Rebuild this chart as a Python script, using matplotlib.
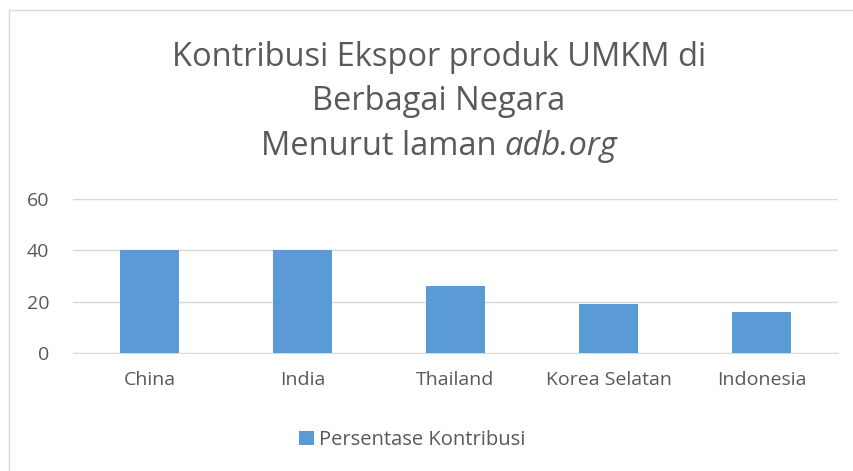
import matplotlib
matplotlib.use("Agg")
import matplotlib.pyplot as plt
from matplotlib.lines import Line2D

categories = ["China", "India", "Thailand", "Korea Selatan", "Indonesia"]
values = [40, 40, 26, 19, 16]
yticks = [0, 20, 40, 60]
series_name = "Persentase Kontribusi"

W, H = 854, 471
fig = plt.figure(figsize=(W / 100, H / 100), dpi=100)
fig.patch.set_facecolor("white")
font = "Open Sans"
gray = "#595959"
bar_color = "#5B9BD5"

# chart border (cut at right and bottom)
fig.add_artist(Line2D([9.5 / W, 1.0], [1 - 9.5 / H, 1 - 9.5 / H], color="#D9D9D9", lw=1.0))
fig.add_artist(Line2D([9.5 / W, 9.5 / W], [0, 1 - 9.5 / H], color="#D9D9D9", lw=1.0))

ax = fig.add_axes([73 / W, 1 - 353 / H, (838 - 73) / W, (353 - 199) / H])
x = list(range(len(categories)))
ax.bar(x, values, width=0.39, color=bar_color, label=series_name, zorder=3)
ax.set_xlim(-0.5, len(categories) - 0.5)
ax.set_ylim(0, 60)
ax.set_yticks(yticks)
ax.set_xticks(x)
ax.set_xticklabels(categories)
ax.grid(axis="y", color="#D9D9D9", lw=1.0, zorder=0)
for s in ax.spines.values():
    s.set_visible(False)
ax.spines["bottom"].set_visible(True)
ax.spines["bottom"].set_color("#D9D9D9")
ax.tick_params(axis="both", length=0, labelsize=14, labelcolor=gray)
ax.tick_params(axis="x", pad=13)
ax.tick_params(axis="y", pad=17)
for lab in ax.get_xticklabels() + ax.get_yticklabels():
    lab.set_fontfamily(font)

cx = 439 / W
fs = 23.5
fig.text(cx, 1 - 57 / H, "Kontribusi Ekspor produk UMKM di", ha="center", va="center",
         fontsize=fs, color=gray, family=font)
fig.text(cx, 1 - 102 / H, "Berbagai Negara", ha="center", va="center",
         fontsize=fs, color=gray, family=font)

# third line: regular + italic part, centred together
renderer = fig.canvas.get_renderer()
t1 = fig.text(0, 1 - 147 / H, "Menurut laman ", ha="left", va="center",
              fontsize=fs, color=gray, family=font)
t2 = fig.text(0, 1 - 147 / H, "adb.org", ha="left", va="center",
              fontsize=fs, color=gray, family=font, style="italic")
w1 = t1.get_window_extent(renderer).width
w2 = t2.get_window_extent(renderer).width
start = cx * W - (w1 + w2) / 2
t1.set_x(start / W)
t2.set_x((start + w1) / W)

leg = fig.legend(loc="center", bbox_to_anchor=(412 / W, 1 - 440 / H), frameon=False,
                 handlelength=0.75, handleheight=0.75, handletextpad=0.25,
                 prop={"family": font, "size": 14.5})
for t in leg.get_texts():
    t.set_color(gray)

fig.savefig("out.png", dpi=100, facecolor="white")
